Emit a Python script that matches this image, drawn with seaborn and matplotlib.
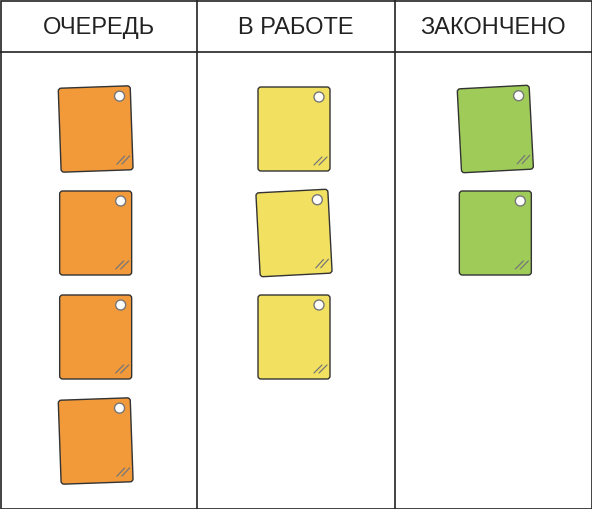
import numpy as np
import matplotlib.pyplot as plt
import matplotlib.patches as mpatches
import matplotlib.transforms as mtransforms
import seaborn as sns

sns.set_style("white")
plt.rcParams['font.family'] = ['Liberation Sans Narrow', 'Liberation Sans', 'DejaVu Sans']

columns = ["ОЧЕРЕДЬ", "В РАБОТЕ", "ЗАКОНЧЕНО"]
card_counts = [4, 3, 2]
card_colors = ["#f2993a", "#f2e060", "#9fcc58"]
# tilt of each card in degrees, per column
card_tilts = [[-2, 0, 0, -2], [0, -3, 0], [-3, 0]]
card_shift = [-3, -2, 2]

W, H = 592, 509
fig = plt.figure(figsize=(W / 100, H / 100), dpi=100)
ax = fig.add_axes([0, 0, 1, 1])
ax.set_xlim(0, W)
ax.set_ylim(H, 0)
ax.axis("off")

col_w = W / 3
header_h = 52
card_w, card_h = 72, 84
card_gap = 104
first_top = 87

# board frame
ax.add_patch(mpatches.Rectangle((0.5, 0.5), W - 1, H - 1, fill=False, ec="#222222", lw=1.2))
ax.plot([0, W], [header_h, header_h], color="#222222", lw=1.2)
for i in range(1, 3):
    ax.plot([i * col_w, i * col_w], [0, H], color="#222222", lw=1.2)

for ci, name in enumerate(columns):
    cx = (ci + 0.5) * col_w
    ax.text(cx, header_h / 2 + 2, name, ha="center", va="center", fontsize=17, color="#222222")
    cx += card_shift[ci]
    for k in range(card_counts[ci]):
        cy = first_top + k * card_gap + card_h / 2
        tr = mtransforms.Affine2D().rotate_deg_around(cx, cy, card_tilts[ci][k]) + ax.transData
        card = mpatches.FancyBboxPatch((cx - card_w / 2, cy - card_h / 2), card_w, card_h,
                                       boxstyle="round,pad=0,rounding_size=3",
                                       fc=card_colors[ci], ec="#333333", lw=1.0, transform=tr)
        ax.add_patch(card)
        ax.add_patch(mpatches.Circle((cx + card_w / 2 - 11, cy - card_h / 2 + 10), 5,
                                     fc="white", ec="#777777", lw=1.0, transform=tr))
        for off in (0, 5):
            x0 = cx + card_w / 2 - 16 + off
            y0 = cy + card_h / 2 - 6
            ax.plot([x0, x0 + 8], [y0, y0 - 8], color="#777777", lw=0.9, transform=tr)

fig.savefig("out.png", dpi=100)
